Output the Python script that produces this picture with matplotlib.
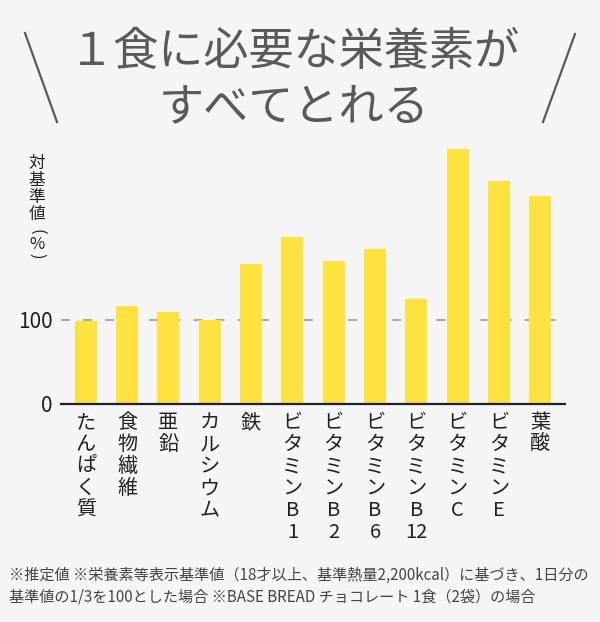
import matplotlib.pyplot as plt

plt.rcParams['font.family'] = ['Noto Sans CJK JP', 'DejaVu Sans']

# data
labels = ['たんぱく質', '食物繊維', '亜鉛', 'カルシウム', '鉄',
          'ビタミンB1', 'ビタミンB2', 'ビタミンB6', 'ビタミンB12',
          'ビタミンC', 'ビタミンE', '葉酸']
values = [99, 117, 109, 100, 167, 199, 170, 185, 125, 303, 265, 248]
yticks = [0, 100]

title1 = '１食に必要な栄養素が'
title2 = 'すべてとれる'
ylabel_chars = ['対', '基', '準', '値', '(', '%', ')']
note1 = '※推定値 ※栄養素等表示基準値（18才以上、基準熱量2,200kcal）に基づき、1日分の'
note2 = '基準値の1/3を100とした場合 ※BASE BREAD チョコレート 1食（2袋）の場合'

BG = '#f5f5f5'
BAR = '#fee340'
GREY = '#5a5a5a'


def split_vertical(text):
    # one glyph per row, but keep digit runs like "12" together
    rows = []
    for ch in text:
        if ch.isdigit() and rows and rows[-1].isdigit():
            rows[-1] += ch
        else:
            rows.append(ch)
    return rows


W, H = 600, 622
fig = plt.figure(figsize=(W / 100, H / 100), dpi=100, facecolor=BG)
ax = fig.add_axes([61 / W, (H - 404) / H, 504 / W, 260.4 / H])
ax.set_facecolor(BG)

x = list(range(len(values)))
ax.bar(x, values, width=0.53, color=BAR, zorder=2)
ax.axhline(100, color='#aaaaaa', lw=1.5, dashes=(4.3, 6.3), zorder=1)

ax.set_xlim(-0.6, len(values) - 0.4)
ax.set_ylim(0, 310)
for s in ['top', 'right', 'left']:
    ax.spines[s].set_visible(False)
ax.spines['bottom'].set_linewidth(1.6)
ax.spines['bottom'].set_color('#222222')
ax.set_xticks([])
ax.set_yticks(yticks)
ax.tick_params(axis='y', length=0, pad=6, labelsize=15, labelcolor='#222222')

# vertical category labels
pitch = 15.8
for i, lab in enumerate(labels):
    for k, ch in enumerate(split_vertical(lab)):
        ax.annotate(ch, xy=(i, 0), xycoords=('data', 'axes fraction'),
                    xytext=(0, -6 - k * pitch), textcoords='offset points',
                    ha='center', va='top', fontsize=14.5, color='#222222')

# vertical y label
ypos = [163.5, 180.5, 197.5, 214.5, 232, 245, 256]
for ch, yp in zip(ylabel_chars, ypos):
    rot = -90 if ch in '()' else 0
    fig.text(37 / W, 1 - yp / H, ch, ha='center', va='center',
             fontsize=12, rotation=rot, color='#222222')

# title with slashes
fig.text(294 / W, 1 - 52 / H, title1, ha='center', va='center',
         fontsize=32.5, color=GREY)
fig.text(294 / W, 1 - 107 / H, title2, ha='center', va='center',
         fontsize=32.5, color=GREY)
fig.add_artist(plt.Line2D([25 / W, 57 / W], [1 - 33 / H, 1 - 122 / H],
                          color=GREY, lw=1.6))
fig.add_artist(plt.Line2D([575 / W, 543 / W], [1 - 34 / H, 1 - 122 / H],
                          color=GREY, lw=1.6))

# footnote
fig.text(9 / W, 1 - 575 / H, note1, ha='left', va='center',
         fontsize=10.9, color='#444444')
fig.text(9 / W, 1 - 597.5 / H, note2, ha='left', va='center',
         fontsize=10.9, color='#444444')

fig.savefig('out.png', dpi=100, facecolor=BG)
